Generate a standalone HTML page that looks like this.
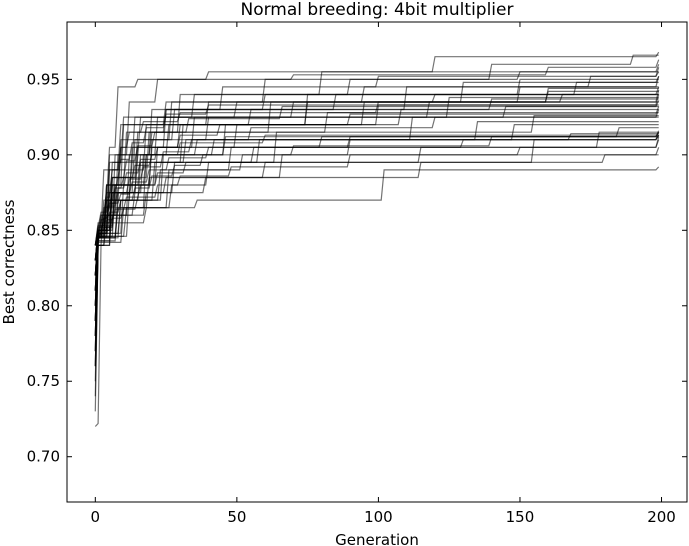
<!DOCTYPE html>
<html><head><meta charset="utf-8"><style>
body{margin:0;background:#fff;}
svg{display:block;font-family:"Liberation Sans","DejaVu Sans",sans-serif;}
</style></head><body>
<svg id="chart" width="689" height="546" xmlns="http://www.w3.org/2000/svg">
<rect x="0" y="0" width="689" height="546" fill="#fff"/>
<text x="377" y="15" text-anchor="middle" font-size="17" font-family="DejaVu Sans, sans-serif">Normal breeding: 4bit multiplier</text>
<text x="377" y="546" dy="-1" text-anchor="middle" font-size="15" font-family="DejaVu Sans, sans-serif">Generation</text>
<text transform="translate(14,262) rotate(-90)" text-anchor="middle" font-size="15" font-family="DejaVu Sans, sans-serif">Best correctness</text>
<g id="lines"></g>
<g id="axes"></g>
</svg>
<script>
const xTicks = [0, 50, 100, 150, 200];
const yTicks = [0.70, 0.75, 0.80, 0.85, 0.90, 0.95];
const runs = [
 [[0,0.78],[1,0.845],[3,0.87],[5,0.905],[8,0.945],[15,0.95],[40,0.955],[110,0.955],[120,0.965],[199,0.968]],
 [[0,0.80],[1,0.845],[4,0.88],[10,0.92],[25,0.935],[60,0.95],[140,0.96],[190,0.966],[199,0.966]],
 [[0,0.83],[1,0.85],[5,0.9],[12,0.935],[22,0.95],[70,0.953],[160,0.958],[199,0.963]],
 [[0,0.76],[1,0.84],[6,0.885],[15,0.915],[30,0.94],[90,0.95],[150,0.955],[199,0.96]],
 [[0,0.84],[2,0.86],[8,0.9],[20,0.93],[45,0.945],[100,0.952],[199,0.958]],
 [[0,0.82],[1,0.848],[5,0.895],[10,0.925],[35,0.94],[80,0.955],[199,0.955]],
 [[0,0.72],[1,0.722],[2,0.84],[6,0.875],[14,0.91],[28,0.93],[110,0.945],[175,0.952],[199,0.955]],
 [[0,0.81],[1,0.85],[7,0.88],[16,0.9],[22,0.925],[50,0.935],[130,0.948],[199,0.952]],
 [[0,0.79],[1,0.846],[4,0.87],[9,0.905],[25,0.93],[60,0.94],[150,0.95],[199,0.95]],
 [[0,0.83],[1,0.85],[3,0.89],[18,0.92],[40,0.935],[120,0.94],[170,0.948],[199,0.948]],
 [[0,0.77],[1,0.845],[5,0.86],[12,0.9],[20,0.915],[62,0.935],[150,0.945],[199,0.945]],
 [[0,0.84],[1,0.855],[6,0.895],[14,0.925],[70,0.935],[160,0.944],[199,0.944]],
 [[0,0.80],[1,0.845],[8,0.875],[15,0.905],[30,0.92],[75,0.935],[160,0.942],[199,0.942]],
 [[0,0.82],[1,0.848],[4,0.88],[11,0.915],[25,0.93],[85,0.94],[199,0.94]],
 [[0,0.75],[1,0.84],[3,0.865],[18,0.9],[26,0.92],[95,0.935],[165,0.94],[199,0.94]],
 [[0,0.83],[1,0.85],[6,0.88],[20,0.91],[40,0.925],[125,0.938],[199,0.938]],
 [[0,0.79],[1,0.846],[5,0.89],[9,0.92],[55,0.93],[140,0.937],[199,0.937]],
 [[0,0.81],[1,0.848],[10,0.88],[22,0.905],[35,0.925],[118,0.935],[199,0.935]],
 [[0,0.74],[1,0.84],[4,0.87],[13,0.905],[50,0.92],[100,0.933],[199,0.933]],
 [[0,0.84],[1,0.853],[7,0.9],[16,0.925],[145,0.932],[199,0.932]],
 [[0,0.82],[1,0.848],[9,0.87],[24,0.9],[46,0.92],[108,0.93],[199,0.93]],
 [[0,0.78],[1,0.845],[6,0.885],[19,0.915],[82,0.928],[199,0.928]],
 [[0,0.80],[1,0.846],[12,0.875],[28,0.895],[64,0.915],[155,0.926],[199,0.926]],
 [[0,0.83],[1,0.85],[5,0.875],[17,0.9],[42,0.91],[112,0.925],[199,0.925]],
 [[0,0.77],[1,0.843],[8,0.87],[21,0.895],[58,0.91],[135,0.922],[199,0.922]],
 [[0,0.81],[1,0.847],[4,0.87],[16,0.895],[32,0.91],[148,0.92],[199,0.92]],
 [[0,0.84],[1,0.852],[7,0.88],[20,0.905],[90,0.912],[185,0.918],[199,0.918]],
 [[0,0.76],[1,0.842],[10,0.865],[26,0.89],[48,0.905],[178,0.915],[199,0.915]],
 [[0,0.82],[1,0.848],[5,0.875],[15,0.9],[36,0.91],[168,0.914],[199,0.914]],
 [[0,0.79],[1,0.845],[9,0.87],[23,0.89],[52,0.9],[90,0.91],[199,0.913]],
 [[0,0.83],[1,0.85],[6,0.88],[18,0.9],[46,0.912],[199,0.912]],
 [[0,0.80],[1,0.846],[11,0.865],[27,0.88],[40,0.895],[115,0.905],[199,0.91]],
 [[0,0.78],[1,0.843],[6,0.86],[18,0.875],[39,0.885],[115,0.895],[180,0.9],[199,0.9]],
 [[0,0.73],[1,0.84],[4,0.855],[18,0.865],[36,0.87],[100,0.87],[102,0.89],[199,0.892]],
 [[0,0.82],[1,0.847],[3,0.86],[14,0.875],[25,0.885],[66,0.9],[150,0.905],[199,0.912]],
 [[0,0.81],[1,0.846],[7,0.875],[13,0.895],[31,0.92],[75,0.94],[199,0.945]],
 [[0,0.84],[1,0.85],[4,0.88],[9,0.91],[27,0.935],[95,0.945],[199,0.952]],
 [[0,0.79],[1,0.845],[8,0.865],[19,0.885],[60,0.895],[155,0.91],[199,0.915]],
 [[0,0.80],[1,0.848],[2,0.855],[3,0.862],[5,0.87],[7,0.878],[10,0.885],[14,0.893],[20,0.9],[30,0.908],[60,0.913],[199,0.913]],
 [[0,0.78],[1,0.846],[2,0.853],[4,0.86],[6,0.868],[9,0.874],[13,0.882],[19,0.89],[26,0.898],[40,0.905],[80,0.912],[199,0.915]],
 [[0,0.83],[1,0.849],[3,0.858],[5,0.866],[8,0.875],[12,0.884],[17,0.892],[24,0.902],[34,0.91],[55,0.918],[120,0.925],[199,0.93]],
 [[0,0.81],[1,0.848],[2,0.857],[4,0.866],[6,0.875],[8,0.885],[11,0.896],[15,0.906],[21,0.915],[33,0.924],[66,0.932],[199,0.936]],
 [[0,0.77],[1,0.845],[3,0.852],[6,0.858],[10,0.864],[15,0.872],[22,0.88],[30,0.886],[48,0.892],[90,0.9],[199,0.905]],
 [[0,0.82],[1,0.85],[2,0.86],[4,0.872],[6,0.885],[9,0.897],[13,0.908],[18,0.918],[25,0.927],[40,0.933],[199,0.94]],
 [[0,0.79],[1,0.847],[3,0.856],[5,0.862],[9,0.87],[14,0.878],[20,0.886],[28,0.893],[38,0.9],[70,0.906],[140,0.912],[199,0.916]],
 [[0,0.84],[1,0.852],[2,0.862],[4,0.875],[6,0.89],[9,0.905],[12,0.915],[17,0.922],[30,0.928],[100,0.935],[199,0.943]],
 [[0,0.76],[1,0.843],[2,0.85],[4,0.857],[7,0.864],[11,0.872],[16,0.88],[22,0.888],[32,0.895],[56,0.905],[130,0.91],[199,0.913]],
 [[0,0.82],[1,0.848],[3,0.858],[5,0.868],[8,0.878],[11,0.888],[16,0.897],[22,0.905],[30,0.913],[44,0.92],[90,0.927],[199,0.932]]
];
const L=67,R=687,T=22,B=502, xMin=-10,xMax=209, yMin=0.67,yMax=0.988;
const sx=v=>L+(v-xMin)/(xMax-xMin)*(R-L);
const sy=v=>B-(v-yMin)/(yMax-yMin)*(B-T);
const NS="http://www.w3.org/2000/svg";
const lg=document.getElementById('lines');
runs.forEach((run,i)=>{
  let d="";
  run.forEach((p,j)=>{
    if(j===0){d+="M"+sx(p[0]).toFixed(1)+","+sy(p[1]).toFixed(1);}
    else{
      const prev=run[j-1];
      if(p[0]-prev[0]<=1){d+="L"+sx(p[0]).toFixed(1)+","+sy(p[1]).toFixed(1);}
      else{d+="L"+sx(p[0]-1).toFixed(1)+","+sy(prev[1]).toFixed(1)+"L"+sx(p[0]).toFixed(1)+","+sy(p[1]).toFixed(1);}
    }
  });
  const path=document.createElementNS(NS,'path');
  path.setAttribute('d',d);
  path.setAttribute('fill','none');
  path.setAttribute('stroke','rgba(0,0,0,0.55)');
  path.setAttribute('stroke-width','1.2');
  
  
  lg.appendChild(path);
});
const ax=document.getElementById('axes');
function el(tag,attrs,text){const e=document.createElementNS(NS,tag);for(const k in attrs)e.setAttribute(k,attrs[k]);if(text!==undefined)e.textContent=text;ax.appendChild(e);return e;}
const frame=el('rect',{x:L,y:T,width:R-L,height:B-T,fill:'none',stroke:'#000','stroke-width':1});


xTicks.forEach(t=>{
  const x=sx(t);
  el('line',{x1:x,x2:x,y1:B,y2:B-5,stroke:'#000'});
  el('line',{x1:x,x2:x,y1:T,y2:T+5,stroke:'#000'});
  const lb=el('text',{x:x,y:B+20,'text-anchor':'middle','font-size':15,'font-family':'DejaVu Sans, sans-serif'},String(t));
  
  
});
yTicks.forEach(t=>{
  const y=sy(t);
  el('line',{x1:L,x2:L+5,y1:y,y2:y,stroke:'#000'});
  el('line',{x1:R,x2:R-5,y1:y,y2:y,stroke:'#000'});
  const lb=el('text',{x:L-7,y:y+5,'text-anchor':'end','font-size':15,'font-family':'DejaVu Sans, sans-serif'},t.toFixed(2));
  
  
});
</script>
</body></html>
